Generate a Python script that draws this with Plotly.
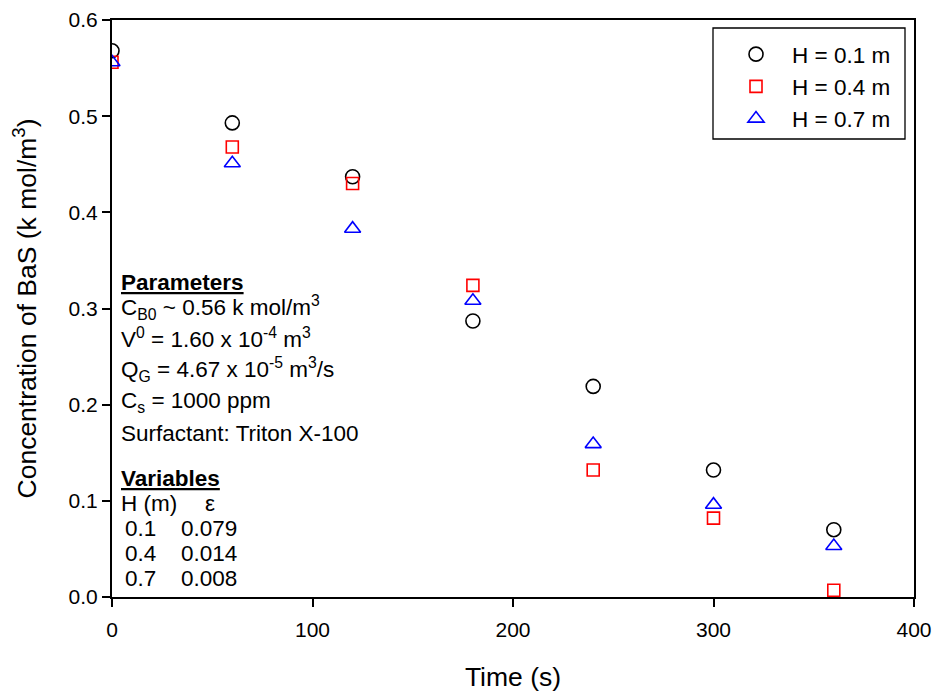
import plotly.graph_objects as go

# ---- data ----
time_s = [0, 60, 120, 180, 240, 300, 360]
conc_h01 = [0.568, 0.493, 0.437, 0.287, 0.219, 0.132, 0.070]
conc_h04 = [0.556, 0.468, 0.430, 0.324, 0.132, 0.082, 0.007]
conc_h07 = [0.556, 0.451, 0.383, 0.308, 0.159, 0.096, 0.053]
series_names = ["H = 0.1 m", "H = 0.4 m", "H = 0.7 m"]
x_ticks = [0, 100, 200, 300, 400]
y_ticks = [0.0, 0.1, 0.2, 0.3, 0.4, 0.5, 0.6]

W, H = 936, 692
SL, SR, ST, SB = 112, 914, 20, 597          # plot area in page pixels
ML, MT, MR, MB = SL, ST, W - SR, H - SB
PW, PH = SR - SL, SB - ST

def px(xs):
    return (xs - SL) / PW

def py(ys):
    return (SB - ys) / PH

FONT = "Liberation Sans, Arial, sans-serif"
TXT = 22.5

fig = go.Figure()
fig.add_trace(go.Scatter(x=time_s, y=conc_h01, mode="markers", name=series_names[0],
                         marker=dict(symbol="circle-open", size=14, color="black",
                                     line=dict(width=1.6, color="black"))))
fig.add_trace(go.Scatter(x=time_s, y=conc_h04, mode="markers", name=series_names[1],
                         marker=dict(symbol="square-open", size=12, color="red",
                                     line=dict(width=1.6, color="red"))))
fig.add_trace(go.Scatter(x=time_s, y=conc_h07, mode="markers", name=series_names[2],
                         marker=dict(symbol="triangle-up-open", size=14, color="blue",
                                     line=dict(width=1.6, color="blue"))))

annos = []
def txt(s, xs, ys, anchor="left"):
    annos.append(dict(text=s, x=px(xs), y=py(ys), xref="paper", yref="paper",
                      xanchor=anchor, yanchor="middle", showarrow=False,
                      font=dict(family=FONT, size=TXT, color="black")))

txt("<b><u>Parameters</u></b>", 119, 282)
txt("C<sub>B0</sub> ~ 0.56 k mol/m<sup>3</sup>", 119, 307)
txt("V<sup>0</sup> = 1.60 x 10<sup>-4</sup> m<sup>3</sup>", 119, 338)
txt("Q<sub>G</sub> = 4.67 x 10<sup>-5</sup> m<sup>3</sup>/s", 119, 369)
txt("C<sub>s</sub> = 1000 ppm", 119, 402)
txt("Surfactant: Triton X-100", 119, 433)
txt("<b><u>Variables</u></b>", 119, 478)
txt("H (m)", 119, 503)
txt("ε", 210, 503, anchor="center")
for ys, hv, ev in [(528, "0.1", "0.079"), (553, "0.4", "0.014"), (578, "0.7", "0.008")]:
    txt(hv, 123, ys)
    txt(ev, 179, ys)

fig.update_layout(
    width=W, height=H,
    margin=dict(l=ML, r=MR, t=MT, b=MB, pad=0, autoexpand=False),
    paper_bgcolor="white", plot_bgcolor="white",
    font=dict(family=FONT, size=TXT, color="black"),
    showlegend=True,
    legend=dict(x=px(720), y=py(33), xanchor="left", yanchor="top",
                bgcolor="rgba(0,0,0,0)", borderwidth=0,
                font=dict(family=FONT, size=TXT), tracegroupgap=0,
                itemwidth=62),
    annotations=annos,
    shapes=[dict(type="rect", xref="paper", yref="paper",
                 x0=px(713), x1=px(905), y0=py(139), y1=py(28),
                 line=dict(color="black", width=1.3), fillcolor="rgba(0,0,0,0)")],
    xaxis=dict(range=[0, 400], tickvals=x_ticks, ticks="outside", ticklen=8,
               tickwidth=1.5, tickcolor="black", showline=True, linecolor="black",
               linewidth=1.5, mirror=True, showgrid=False, zeroline=False,
               automargin=False, ticklabeloverflow="allow",
               tickfont=dict(family=FONT, size=21), ticklabelstandoff=5,
               title=dict(text="Time (s)", font=dict(family=FONT, size=26.5), standoff=32)),
    yaxis=dict(range=[0, 0.6], tickvals=y_ticks, tickformat=".1f", ticks="outside",
               ticklen=8, tickwidth=1.5, tickcolor="black", showline=True,
               linecolor="black", linewidth=2, mirror=True, showgrid=False,
               zeroline=False, automargin=False, ticklabeloverflow="allow",
               tickfont=dict(family=FONT, size=21),
               title=dict(text="Concentration of BaS (k mol/m<sup>3</sup>)",
                          font=dict(family=FONT, size=26.5), standoff=24)),
)

fig.write_html("out.html", config={"displayModeBar": False},
               post_script="document.body.style.margin='0';document.body.style.overflow='hidden';")
